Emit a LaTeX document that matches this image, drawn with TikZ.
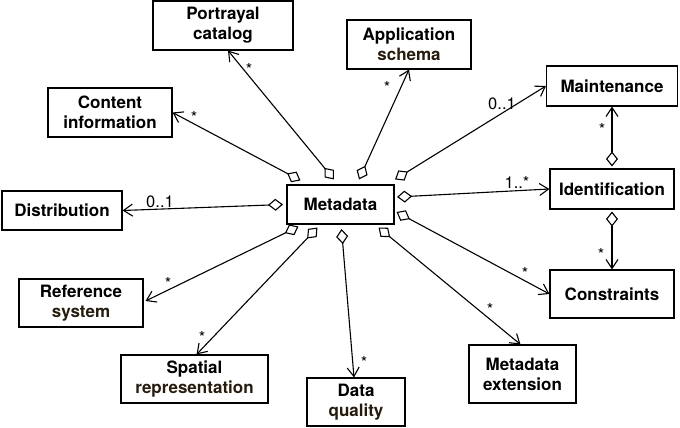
\documentclass[tikz,border=0pt]{standalone}
\usepackage{fontspec}
\setmainfont{TeX Gyre Heros}
\usepackage{xcolor}
\usepackage{tikz}
\usetikzlibrary{arrows.meta}
\definecolor{subbrown}{HTML}{261C0E}

\begin{document}
\begin{tikzpicture}[x=1pt, y=-1pt, every node/.style={align=center}]
\tikzset{
  cls/.style={draw, line width=1.1pt, inner sep=0pt, font=\bfseries\fontsize{17}{20}\selectfont},
  agg/.style={line width=1.1pt, {Diamond[open,length=15pt,width=12pt]}-{Straight Barb[length=9pt,width=12pt]}},
  mult/.style={inner sep=0pt, font=\fontsize{16.5}{19}\selectfont}
}
\useasboundingbox (0,0) rectangle (680,428);
% classes
\node[cls, minimum width=107pt, minimum height=39pt] (metadata) at (340.5,204.5) {Metadata};
\node[cls, minimum width=140pt, minimum height=49pt] (portrayal) at (223,25.5) {Portrayal\\catalog};
\node[cls, minimum width=124pt, minimum height=49pt] (content) at (110,112.5) {Content\\information};
\node[cls, minimum width=120pt, minimum height=39pt] (distribution) at (62,210.5) {Distribution};
\node[cls, minimum width=124pt, minimum height=49pt] (application) at (409,44.5) {Application\\{\color{subbrown}schema}};
\node[cls, minimum width=131pt, minimum height=40pt] (maintenance) at (612,86) {Maintenance};
\node[cls, minimum width=124pt, minimum height=40pt] (identification) at (612,189) {Identification};
\node[cls, minimum width=124pt, minimum height=48pt] (constraints) at (612,294) {Constraints};
\node[cls, minimum width=107pt, minimum height=58pt] (extension) at (522.5,374) {Metadata\\extension};
\node[cls, minimum width=98pt, minimum height=48pt] (quality) at (356,402) {Data\\{\color{subbrown}quality}};
\node[cls, minimum width=147pt, minimum height=48pt] (spatial) at (194.5,379) {Spatial\\{\color{subbrown}representation}};
\node[cls, minimum width=124pt, minimum height=48pt] (reference) at (81,303) {Reference\\{\color{subbrown}system}};
% aggregations
\draw[agg] ([shift={(14,-4)}]metadata.north west) -- (content.east);
\draw[agg] ([shift={(-6.5,-5)}]metadata.north) -- ([shift={(5,0)}]portrayal.south);
\draw[agg] ([shift={(18.5,-5)}]metadata.north) -- (application.south);
\draw[agg] ([shift={(0.5,-5)}]metadata.north east) -- (maintenance.west);
\draw[agg] ([shift={(2.5,-7.5)}]metadata.east) -- (identification.west);
\draw[agg] ([shift={(2,7.5)}]metadata.east) -- (constraints.west);
\draw[agg] ([shift={(-16,3)}]metadata.south east) -- ([shift={(-2,0)}]extension.north);
\draw[agg] ([shift={(1,4.5)}]metadata.south) -- ([shift={(-2,0)}]quality.north);
\draw[agg] ([shift={(-23,3)}]metadata.south) -- ([shift={(2,0)}]spatial.north);
\draw[agg] ([shift={(12,2)}]metadata.south west) -- ([shift={(2,-2)}]reference.east);
\draw[agg] ([shift={(-3.5,0)}]metadata.west) -- (distribution.east);
\draw[agg] ([shift={(0,-2)}]identification.north) -- (maintenance.south);
\draw[agg] ([shift={(0,2)}]identification.south) -- (constraints.north);
% multiplicities
\node[mult] (m-content) at (194,117) {*};
\node[mult] (m-portrayal) at (249,69) {*};
\node[mult] (m-application) at (387,87) {*};
\node[mult] (m-maintenance) at (502,104) {0..1};
\node[mult] (m-identification) at (517,182) {1..*};
\node[mult] (m-constraints) at (525,273) {*};
\node[mult] (m-extension) at (490,309) {*};
\node[mult] (m-quality) at (364,362) {*};
\node[mult] (m-spatial) at (202,337) {*};
\node[mult] (m-reference) at (168,283) {*};
\node[mult] (m-distribution) at (160,202) {0..1};
\node[mult] (m-idmaint) at (602,129) {*};
\node[mult] (m-idconstr) at (601,254) {*};
\end{tikzpicture}
\end{document}
